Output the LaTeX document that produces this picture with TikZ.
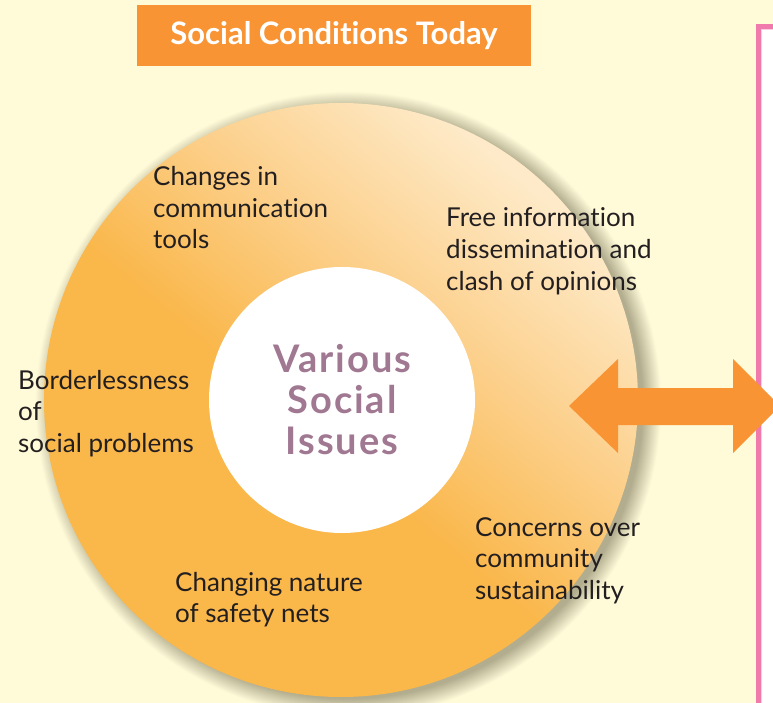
\documentclass[tikz,border=0pt]{standalone}
\usepackage{fontspec}
\setmainfont{Lato}[Ligatures={NoCommon}]
\usetikzlibrary{shadings}
\definecolor{bgc}{RGB}{255,250,216}
\definecolor{orangeT}{RGB}{248,148,52}
\definecolor{ringOr}{RGB}{250,183,74}
\definecolor{ringMid}{RGB}{252,208,140}
\definecolor{ringLt}{RGB}{254,234,200}
\definecolor{shadowc}{RGB}{178,173,142}
\definecolor{pinkc}{RGB}{240,122,172}
\definecolor{pinklt}{RGB}{250,205,225}
\definecolor{txtc}{RGB}{35,31,32}
\definecolor{mauve}{RGB}{160,120,145}
\pgfdeclareverticalshading{ringgrad}{100bp}{color(0bp)=(ringOr); color(46bp)=(ringOr); color(60bp)=(ringMid); color(74bp)=(ringLt); color(100bp)=(ringLt)}
\pgfdeclareradialshading{ringshadow}{\pgfpoint{0bp}{0bp}}{color(0bp)=(shadowc); color(23.5bp)=(shadowc); color(25bp)=(bgc); color(50bp)=(bgc)}
\tikzset{
  lbl/.style={anchor=base west, inner sep=0pt, align=left, text=txtc,
    font=\fontsize{26}{31.5}\selectfont},
}
\begin{document}
\begin{tikzpicture}[x=1pt,y=-1pt]
\useasboundingbox (0,0) rectangle (773,703);
\fill[bgc] (0,0) rectangle (773,703);
% right panel border
\fill[pinkc] (756,24) rectangle (800,720);
\fill[pinklt] (761,29) rectangle (800,720);
\fill[white] (762,30) rectangle (800,720);
% title
\node[fill=orangeT, minimum width=394pt, minimum height=61pt, inner sep=0pt,
  text=white, font=\bfseries\fontsize{31}{34}\selectfont] (title) at (334,35.5) {Social Conditions Today};
% shadow and ring
\shade[shading=ringshadow] (348,404) circle (313);
\shade[shading=ringgrad, shading angle=-40] (341,400) circle (297);
\fill[white] (342,400) circle (133);
% centre text (anchored at the last line's baseline)
\node[anchor=base, inner sep=0pt, align=center, text=mauve,
  font=\bfseries\fontsize{38}{41}\selectfont\addfontfeature{LetterSpace=5}] (centre) at (342,454) {Various\\Social\\Issues};
% labels (anchored at the last line's baseline)
\node[lbl] (comm) at (153,249) {Changes in\\communication\\tools};
\node[lbl] (free) at (446,290) {Free information\\dissemination and\\clash of opinions};
\node[lbl] (border) at (18,452) {Borderlessness\\of\\social problems};
\node[lbl] (safety) at (175,622.5) {Changing nature\\of safety nets};
\node[lbl] (concern) at (475,599) {Concerns over\\community\\sustainability};
% double arrow
\fill[orangeT] (569,406) -- (618,359) -- (618,388) -- (733,388) -- (733,359)
  -- (780,406) -- (733,453) -- (733,425) -- (618,425) -- (618,453) -- cycle;
\end{tikzpicture}
\end{document}
